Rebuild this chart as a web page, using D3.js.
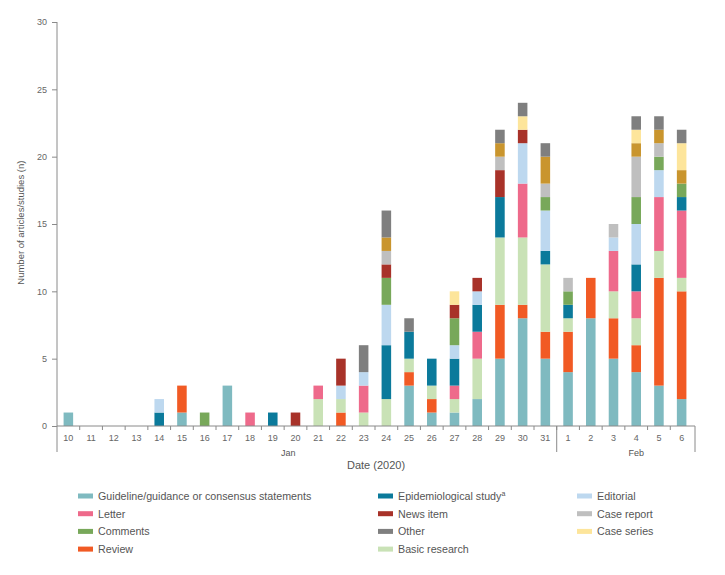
<!DOCTYPE html>
<html><head><meta charset="utf-8">
<script src="https://cdn.jsdelivr.net/npm/d3@7"></script>
<style>body{margin:0;background:#fff}svg{display:block}text{font-family:"Liberation Sans",Arial,sans-serif;fill:#555}</style>
</head><body><svg id="c" width="725" height="575"></svg>
<script>
const days = ["10","11","12","13","14","15","16","17","18","19","20","21","22","23","24","25","26","27","28","29","30","31","1","2","3","4","5","6"];
const months = [{label:"Jan", from:0, to:21}, {label:"Feb", from:22, to:27}];
const yTicks = [0,5,10,15,20,25,30];
// series values, one per day (Jan 10 ... Feb 6), stacked bottom to top
const guideline = [1,0,0,0,0,1,0,3,0,0,0,0,0,0,0,3,1,1,2,5,8,5,4,8,5,4,3,2];
const review    = [0,0,0,0,0,2,0,0,0,0,0,0,1,0,0,1,1,0,0,4,1,2,3,3,3,2,8,8];
const basic     = [0,0,0,0,0,0,0,0,0,0,0,2,1,1,2,1,1,1,3,5,5,5,1,0,2,2,2,1];
const letter    = [0,0,0,0,0,0,0,0,1,0,0,1,0,2,0,0,0,1,2,0,4,0,0,0,3,2,4,5];
const epi       = [0,0,0,0,1,0,0,0,0,1,0,0,0,0,4,2,2,2,2,3,0,1,1,0,0,2,0,1];
const editorial = [0,0,0,0,1,0,0,0,0,0,0,0,1,1,3,0,0,1,1,0,3,3,0,0,1,3,2,0];
const comments  = [0,0,0,0,0,0,1,0,0,0,0,0,0,0,2,0,0,2,0,0,0,1,1,0,0,2,1,1];
const news      = [0,0,0,0,0,0,0,0,0,0,1,0,2,0,1,0,0,1,1,2,1,0,0,0,0,0,0,0];
const caseReport= [0,0,0,0,0,0,0,0,0,0,0,0,0,0,1,0,0,0,0,1,0,1,1,0,1,3,1,0];
const unlabelled= [0,0,0,0,0,0,0,0,0,0,0,0,0,0,1,0,0,0,0,1,0,2,0,0,0,1,1,1];
const caseSeries= [0,0,0,0,0,0,0,0,0,0,0,0,0,0,0,0,0,1,0,0,1,0,0,0,0,1,0,2];
const other     = [0,0,0,0,0,0,0,0,0,0,0,0,0,2,2,1,0,0,0,1,1,1,0,0,0,1,1,1];

const series = [
 {key:"guideline", name:"Guideline/guidance or consensus statements", values:guideline, color:"#7fbac0"},
 {key:"review", name:"Review", values:review, color:"#f15a24"},
 {key:"basic", name:"Basic research", values:basic, color:"#c9e2b6"},
 {key:"letter", name:"Letter", values:letter, color:"#ee6a8b"},
 {key:"epi", name:"Epidemiological study", values:epi, color:"#0b7a9b"},
 {key:"editorial", name:"Editorial", values:editorial, color:"#bdd8ef"},
 {key:"comments", name:"Comments", values:comments, color:"#78a85a"},
 {key:"news", name:"News item", values:news, color:"#a83229"},
 {key:"caseReport", name:"Case report", values:caseReport, color:"#bfbfbf"},
 {key:"unlabelled", name:"", values:unlabelled, color:"#c9952e"},
 {key:"caseSeries", name:"Case series", values:caseSeries, color:"#fde59b"},
 {key:"other", name:"Other", values:other, color:"#7f7f7f"}
];
const legendCols = [
 ["guideline","letter","comments","review"],
 ["epi","news","other","basic"],
 ["editorial","caseReport","caseSeries"]
];

const svg = d3.select("#c");
const x = d3.scaleBand().domain(days.map((d,i)=>i)).range([57,693]).paddingInner(0.58).paddingOuter(0.29);
const y = d3.scaleLinear().domain([0,30]).range([426,22]);

const table = days.map((d,i)=>{const o={i}; series.forEach(s=>o[s.key]=s.values[i]); return o;});
const stacked = d3.stack().keys(series.map(s=>s.key))(table);
const colorOf = Object.fromEntries(series.map(s=>[s.key,s.color]));

svg.append("g").selectAll("g").data(stacked).join("g").attr("fill",d=>colorOf[d.key])
  .selectAll("rect").data(d=>d.filter(p=>p[1]>p[0])).join("rect")
  .attr("x",d=>x(d.data.i)).attr("width",x.bandwidth())
  .attr("y",d=>y(d[1])).attr("height",d=>y(d[0])-y(d[1]));

const axisColor="#8a8a8a";
// y axis
const ya = svg.append("g").attr("transform","translate(57,0)")
  .call(d3.axisLeft(y).tickValues(yTicks).tickSize(5).tickPadding(5));
ya.select(".domain").remove();
ya.selectAll("line").attr("stroke",axisColor);
ya.selectAll("text").attr("font-size",9).style("fill","#666").attr("font-family","Liberation Sans, Arial");
svg.append("line").attr("x1",57).attr("x2",57).attr("y1",y(30)).attr("y2",452).attr("stroke",axisColor);
svg.append("text").attr("transform","translate(24,"+y(15.1)+") rotate(-90)").attr("text-anchor","middle")
  .attr("font-size",9.5).text("Number of articles/studies (n)");

// x axis
svg.append("line").attr("x1",57).attr("x2",695).attr("y1",y(0)).attr("y2",y(0)).attr("stroke",axisColor);
const step = x.step();
svg.append("g").selectAll("line").data(days.slice(1).map((d,i)=>i+1)).join("line")
  .attr("x1",d=>x(d)-step*0.29).attr("x2",d=>x(d)-step*0.29)
  .attr("y1",y(0)).attr("y2",y(0)+4).attr("stroke",axisColor);
svg.append("g").selectAll("text").data(days).join("text")
  .attr("x",(d,i)=>x(i)+x.bandwidth()/2).attr("y",y(0)+15).attr("text-anchor","middle")
  .attr("font-size",9).style("fill","#666").text(d=>d);
const sepX = x(22)-step*0.29;
svg.append("line").attr("x1",sepX).attr("x2",sepX).attr("y1",y(0)).attr("y2",452).attr("stroke",axisColor);
svg.append("line").attr("x1",695).attr("x2",695).attr("y1",y(0)).attr("y2",452).attr("stroke",axisColor);
svg.append("text").attr("x",(x(9)+x(10))/2+x.bandwidth()/2+4).attr("y",456).attr("text-anchor","middle").attr("font-size",9).text("Jan");
svg.append("text").attr("x",x(25)+x.bandwidth()/2).attr("y",456).attr("text-anchor","middle").attr("font-size",9).text("Feb");
svg.append("text").attr("x",376).attr("y",469).attr("text-anchor","middle").attr("font-size",11).text("Date (2020)");

// legend
const colX = [78,378,577];
const byKey = Object.fromEntries(series.map(s=>[s.key,s]));
legendCols.forEach((col,ci)=>{
  col.forEach((k,ri)=>{
    const s=byKey[k], cy=496+ri*17.7;
    const g=svg.append("g");
    g.append("rect").attr("x",colX[ci]).attr("y",cy-2.5).attr("width",15).attr("height",5).attr("fill",s.color);
    const t=g.append("text").attr("x",colX[ci]+20).attr("y",cy+4).attr("font-size",10.7).text(s.name);
    if(k==="epi") t.append("tspan").attr("font-size",7).attr("dy",-4).text("a");
  });
});
</script></body></html>
